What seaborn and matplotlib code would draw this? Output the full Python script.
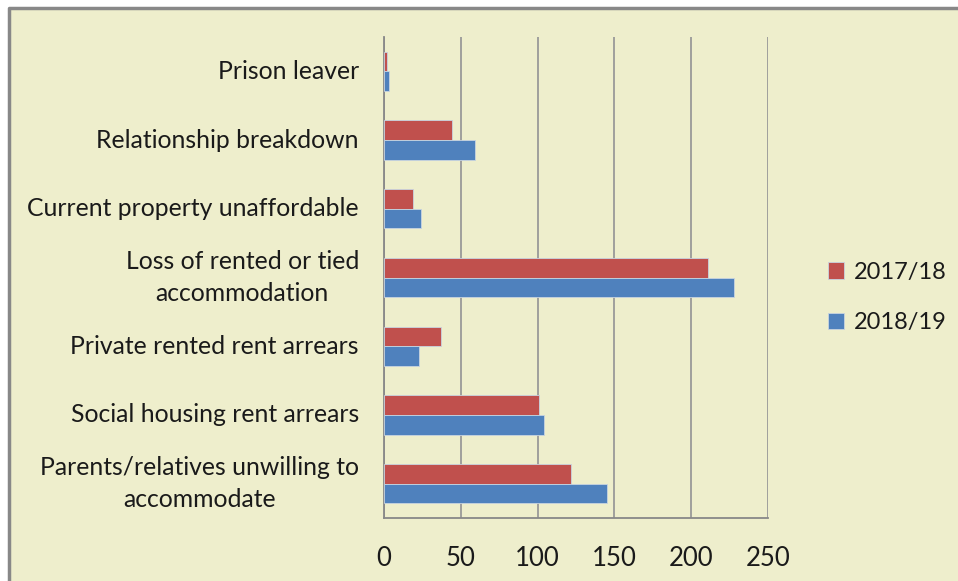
import matplotlib
matplotlib.use("Agg")
import matplotlib.pyplot as plt
import seaborn as sns
import pandas as pd
from matplotlib.patches import Rectangle

# valeurs
reasons = [
    "Prison leaver",
    "Relationship breakdown",
    "Current property unaffordable",
    "Loss of rented or tied\naccommodation",
    "Private rented rent arrears",
    "Social housing rent arrears",
    "Parents/relatives unwilling to\naccommodate",
]
years = ["2017/18", "2018/19"]
values_1718 = [2, 44, 19, 211, 37, 101, 122]
values_1819 = [3, 59, 24, 228, 23, 104, 145]
x_ticks = [0, 50, 100, 150, 200, 250]

df = pd.DataFrame({
    "Reason": reasons * 2,
    "Year": [years[0]] * len(reasons) + [years[1]] * len(reasons),
    "Count": values_1718 + values_1819,
})

bg = "#EEEECC"
palette = {"2017/18": "#C0504D", "2018/19": "#4F81BD"}

sns.set_style("white")
plt.rcParams["font.family"] = ["Lato", "DejaVu Sans"]
plt.rcParams["text.color"] = "#1a1a1a"

fig = plt.figure(figsize=(9.58, 5.81), dpi=100, facecolor="white")
# fond crème avec bordure grise (haut et gauche)
fig.patches.append(Rectangle((9 / 958, 0), 1, 1 - 8 / 581, transform=fig.transFigure,
                             facecolor=bg, edgecolor="none", zorder=-2))
fig.lines.append(plt.Line2D([9 / 958, 9 / 958, 1], [0, 1 - 8 / 581, 1 - 8 / 581],
                            transform=fig.transFigure, color="#888888", lw=2.5))

ax = fig.add_axes([384 / 958, 63 / 581, 384 / 958, 481 / 581])
ax.set_facecolor(bg)
sns.barplot(data=df, y="Reason", x="Count", hue="Year", hue_order=years, order=reasons,
            palette=palette, orient="h", width=0.57, edgecolor="#c8d4e0", linewidth=0.6,
            saturation=1, ax=ax, zorder=3)

ax.set_xlim(0, 250)
ax.set_ylim(len(reasons) - 0.5, -0.5)
ax.set_xticks(x_ticks)
ax.set_xticklabels([str(t) for t in x_ticks], fontsize=18.5, color="#1a1a1a")
ax.grid(axis="x", color="#999999", lw=1.3, zorder=0)
ax.set_xlabel("")
ax.set_ylabel("")

# étiquettes des catégories au centre, petites marques aux séparations
ax.set_yticks(range(len(reasons)))
ax.set_yticklabels(reasons, fontsize=17.8, multialignment="center", color="#1a1a1a",
                   linespacing=1.5, va="center")
ax.set_yticks([i - 0.5 for i in range(len(reasons) + 1)], minor=True)
ax.tick_params(axis="y", which="major", length=0, pad=18)
ax.tick_params(axis="y", which="minor", length=8, color="#888888", width=1.3)
ax.tick_params(axis="x", which="major", length=9, color="#888888", width=1.3, pad=11)

for side in ["top", "right"]:
    ax.spines[side].set_visible(False)
for side in ["left", "bottom"]:
    ax.spines[side].set_color("#888888")
    ax.spines[side].set_linewidth(1.3)

leg = ax.legend(loc="center left", bbox_to_anchor=(1.1, 0.458), frameon=False, fontsize=17,
                handlelength=0.7, handleheight=0.7, handletextpad=0.4, labelspacing=1.25)

fig.savefig("out.png", dpi=100, facecolor="white")
